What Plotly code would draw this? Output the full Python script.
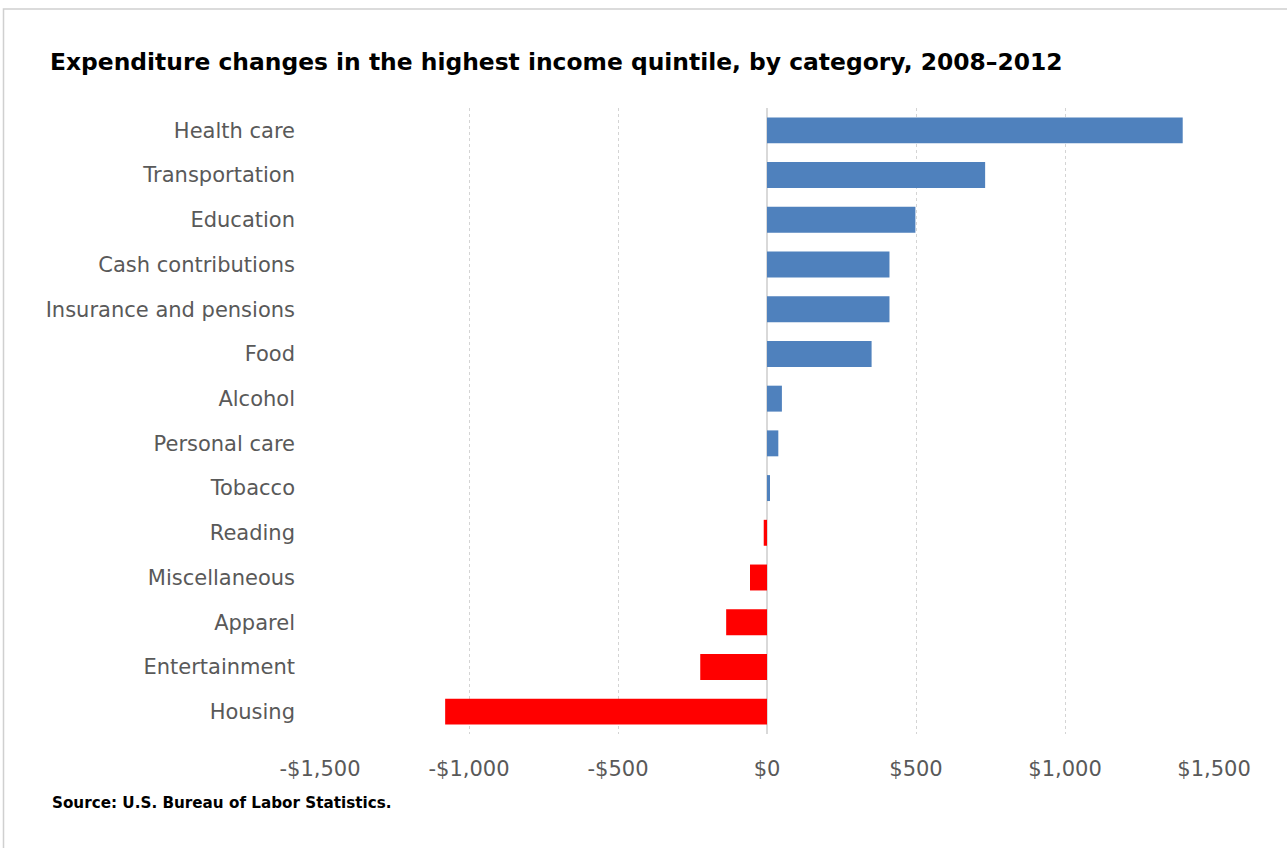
import plotly.graph_objects as go

categories = ["Health care", "Transportation", "Education", "Cash contributions",
              "Insurance and pensions", "Food", "Alcohol", "Personal care", "Tobacco",
              "Reading", "Miscellaneous", "Apparel", "Entertainment", "Housing"]
values = [1395, 732, 498, 411, 411, 351, 50, 38, 10, -11, -57, -137, -224, -1080]
tick_vals = [-1500, -1000, -500, 0, 500, 1000, 1500]
tick_text = ["-$1,500", "-$1,000", "-$500", "$0", "$500", "$1,000", "$1,500"]

colors = ["#4f81bd" if v >= 0 else "#ff0000" for v in values]

# body margin is removed by post_script, so figure pixels = screen pixels
W, H = 1287, 848
L, R, T, B = 320, 73, 108, 114
pw, ph = W - L - R, H - T - B

def px_x(x):
    return (x - L) / pw

def px_y(y):
    return (H - B - y) / ph

fig = go.Figure(go.Bar(
    x=values, y=categories, orientation="h",
    marker=dict(color=colors, line=dict(width=0)),
    hoverinfo="x+y",
))

fig.update_layout(
    width=W, height=H,
    margin=dict(l=L, r=R, t=T, b=B),
    paper_bgcolor="white", plot_bgcolor="white",
    bargap=0.42,
    showlegend=False,
    title=dict(
        text="<b>Expenditure changes in the highest income quintile, by category, 2008\u20132012</b>",
        x=50 / W, xanchor="left", xref="container",
        y=1 - 62 / H, yanchor="middle", yref="container",
        font=dict(family="DejaVu Sans", size=23.4, color="#000000"),
    ),
    xaxis=dict(
        range=[-1500, 1500],
        tickvals=tick_vals, ticktext=tick_text,
        showgrid=True, gridcolor="#d4d4d4", griddash="dot", gridwidth=1,
        zeroline=True, zerolinecolor="#d9d9d9", zerolinewidth=2,
        showline=False, ticks="",
        tickfont=dict(family="DejaVu Sans", size=21, color="#595959"),
        ticklabelstandoff=20,
        fixedrange=True,
    ),
    yaxis=dict(
        autorange="reversed",
        showgrid=False, zeroline=False, showline=False, ticks="",
        tickfont=dict(family="DejaVu Sans", size=21, color="#595959"),
        ticklabelstandoff=24,
        fixedrange=True,
    ),
    annotations=[dict(
        text="Source: U.S. Bureau of Labor Statistics.",
        xref="paper", yref="paper",
        x=px_x(50), y=px_y(803), xanchor="left", yanchor="middle",
        showarrow=False,
        font=dict(family="DejaVu Sans", size=15.2, color="#000000", weight="bold"),
    )],
    shapes=[dict(
        type="rect", xref="paper", yref="paper",
        x0=px_x(3.5), x1=px_x(1300), y0=px_y(9), y1=px_y(870),
        line=dict(color="#d0d0d0", width=1.5), fillcolor="rgba(0,0,0,0)",
        layer="below",
    )],
)

fig.write_html("out.html", config={"displayModeBar": False},
               post_script="document.body.style.margin='0';")
